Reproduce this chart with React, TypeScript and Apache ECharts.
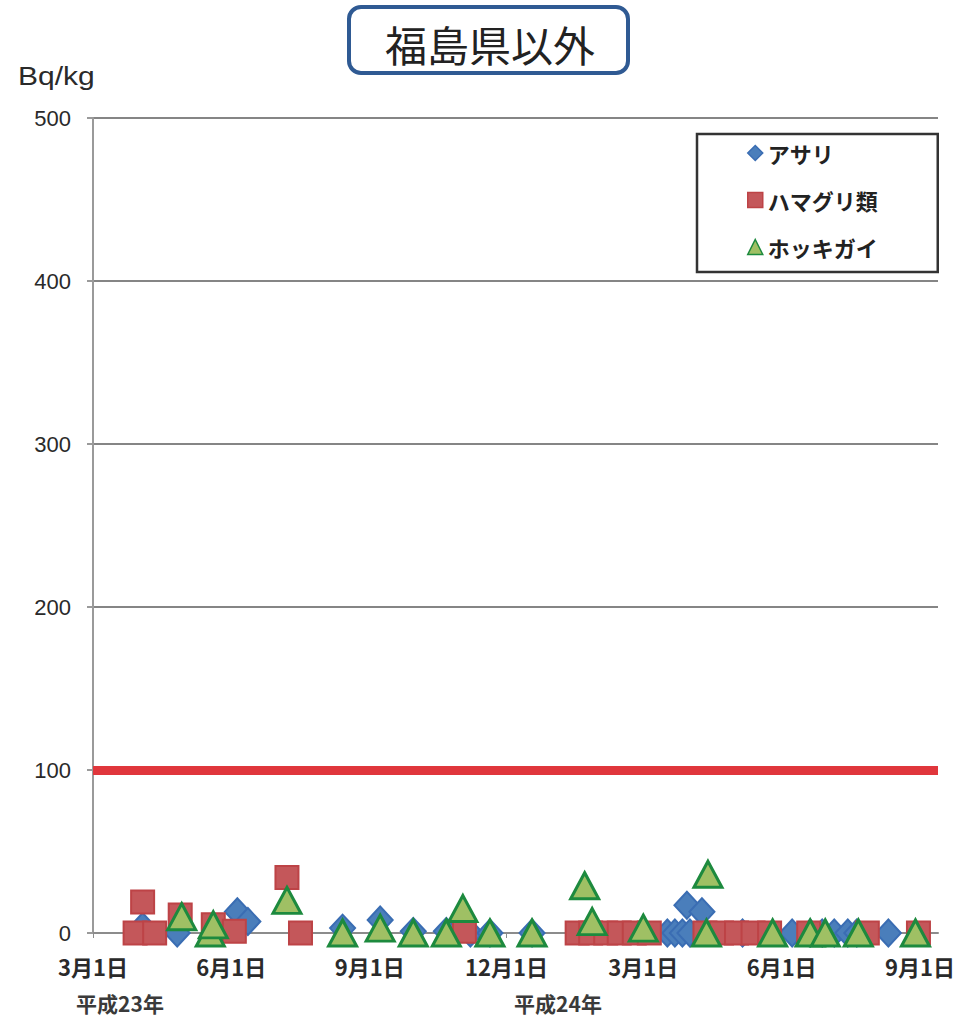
import React, { useEffect, useRef } from "react";
import * as echarts from "echarts";

const seriesNames = ["アサリ", "ハマグリ類", "ホッキガイ"];

const asariDates = [
  "2011-04-03", "2011-04-26", "2011-06-05", "2011-06-12", "2011-08-14", "2011-09-08",
  "2011-09-30", "2011-10-22", "2011-11-07", "2011-11-20", "2011-12-18", "2012-03-17",
  "2012-03-22", "2012-03-27", "2012-03-30", "2012-04-01", "2012-04-09", "2012-05-06",
  "2012-06-08", "2012-06-20", "2012-06-28", "2012-07-06", "2012-07-15", "2012-07-21",
  "2012-08-11",
];
const asariValues = [4, 0, 13, 7, 3, 8, 1, 1, 0, 0, 0, 0, 0, 0, 17, 0, 13, 0, 0, 0, 0, 0, 0, 0, 0];

const hamaguriDates = [
  "2011-03-29", "2011-04-03", "2011-04-11", "2011-04-28", "2011-05-20", "2011-06-03",
  "2011-07-08", "2011-07-17", "2011-11-03", "2012-01-17", "2012-01-26", "2012-02-05",
  "2012-02-14", "2012-02-24", "2012-03-05", "2012-04-11", "2012-04-22", "2012-05-02",
  "2012-05-13", "2012-05-24", "2012-06-19", "2012-07-28", "2012-08-31",
];
const hamaguriValues = [0, 19, 0, 11, 5, 1, 34, 0, 1, 0, 0, 0, 0, 0, 0, 0, 0, 0, 0, 0, 0, 0, 0];

const hokkiDates = [
  "2011-04-29", "2011-05-18", "2011-05-20", "2011-07-08", "2011-08-14", "2011-09-08",
  "2011-09-30", "2011-10-22", "2011-11-02", "2011-11-20", "2011-12-18", "2012-01-22",
  "2012-01-27", "2012-03-01", "2012-04-12", "2012-04-13", "2012-05-26", "2012-06-20",
  "2012-06-30", "2012-07-22", "2012-08-29",
];
const hokkiValues = [10, 0, 5, 20, 0, 3, 0, 0, 15, 0, 0, 29, 7, 3, 0, 36, 0, 0, 0, 0, 0];

const xTickDates = ["2011-03-01", "2011-06-01", "2011-09-01", "2011-12-01", "2012-03-01", "2012-06-01", "2012-09-01"];
const xMinDate = "2011-03-01";
const xMaxDate = "2012-09-13";
const limitValue = 100;

const ts = (s: string) => {
  const [y, m, d] = s.split("-").map(Number);
  return Date.UTC(y, m - 1, d);
};
const pair = (dates: string[], vals: number[]) => dates.map((d, i) => [ts(d), vals[i]]);

export default function App() {
  const ref = useRef<HTMLDivElement>(null);
  useEffect(() => {
    document.body.style.margin = "0";
    const chart = echarts.init(ref.current!, null, { renderer: "svg" });
    const font = "'Liberation Sans', 'Noto Sans CJK JP', sans-serif";
    const jp = "'Noto Sans CJK JP', sans-serif";
    chart.setOption({
      animation: false,
      backgroundColor: "#ffffff",
      grid: { left: 93, right: 23, top: 118, bottom: 87, containLabel: false },
      xAxis: {
        type: "value",
        min: ts(xMinDate),
        max: ts(xMaxDate),
        axisLine: { show: true, onZero: false, lineStyle: { color: "#8c8c8c", width: 2 } },
        axisTick: { show: true, customValues: xTickDates.map(ts), length: 5, lineStyle: { color: "#8c8c8c" } },
        splitLine: { show: false },
        axisLabel: {
          customValues: xTickDates.map(ts),
          margin: 22,
          color: "#2a2a2a",
          fontSize: 22,
          fontWeight: "bold",
          fontFamily: jp,
          formatter: (v: number) => {
            const d = new Date(v);
            return `${d.getUTCMonth() + 1}月${d.getUTCDate()}日`;
          },
        },
      },
      yAxis: {
        type: "value",
        min: 0,
        max: 500,
        interval: 100,
        axisLine: { show: true, lineStyle: { color: "#9a9a9a", width: 2 } },
        axisTick: { show: true, length: 6, lineStyle: { color: "#9a9a9a", width: 2 } },
        splitLine: { show: true, lineStyle: { color: "#858585", width: 2 } },
        axisLabel: {
          color: "#2a2a2a",
          fontSize: 22,
          fontFamily: font,
          margin: 22,
        },
      },
      legend: {
        orient: "vertical",
        left: 697,
        top: 134,
        padding: [8, 60, 14, 50],
        itemGap: 25,
        itemWidth: 15,
        itemHeight: 15,
        borderColor: "#333",
        borderWidth: 2.5,
        backgroundColor: "#fff",
        textStyle: { fontSize: 22, fontWeight: "bold", color: "#222", fontFamily: jp },
        itemStyle: { borderWidth: 1.5 },
        data: seriesNames,
      },
      graphic: [
        {
          type: "rect",
          shape: { x: 349, y: 7, width: 279, height: 66, r: 12 },
          style: { fill: "#fff", stroke: "#2f5a93", lineWidth: 4 },
        },
        {
          type: "text",
          x: 490,
          y: 43,
          style: {
            text: "福島県以外",
            fontSize: 42,
            fontFamily: jp,
            fill: "#222",
            align: "center",
            verticalAlign: "middle",
          },
        },
        {
          type: "text",
          x: 18,
          y: 76,
          scaleX: 1.2,
          style: { text: "Bq/kg", fontSize: 25, fontFamily: font, fill: "#2a2a2a", verticalAlign: "middle" },
        },
        {
          type: "text",
          x: 120,
          y: 1003,
          style: { text: "平成23年", fontSize: 21, fontWeight: "bold", fontFamily: jp, fill: "#3a3a3a", align: "center", verticalAlign: "middle" },
        },
        {
          type: "text",
          x: 558,
          y: 1003,
          style: { text: "平成24年", fontSize: 21, fontWeight: "bold", fontFamily: jp, fill: "#3a3a3a", align: "center", verticalAlign: "middle" },
        },
      ],
      series: [
        {
          name: seriesNames[0],
          type: "scatter",
          symbol: "diamond",
          symbolSize: [25, 27],
          itemStyle: { color: "#4a7ebb", borderColor: "#3a6db3", borderWidth: 2, opacity: 1 },
          data: pair(asariDates, asariValues),
          markLine: {
            silent: true,
            symbol: "none",
            label: { show: false },
            lineStyle: { color: "#e0363c", width: 9, type: "solid", opacity: 1 },
            data: [{ yAxis: limitValue }],
          },
          z: 2,
        },
        {
          name: seriesNames[1],
          type: "scatter",
          symbol: "rect",
          symbolSize: 23,
          itemStyle: { color: "#c4575a", borderColor: "#bd4346", borderWidth: 2, opacity: 1 },
          data: pair(hamaguriDates, hamaguriValues),
          z: 3,
        },
        {
          name: seriesNames[2],
          type: "scatter",
          symbol: "triangle",
          symbolSize: [28, 26],
          itemStyle: { color: "#9fc064", borderColor: "#1d8a3e", borderWidth: 3, opacity: 1 },
          data: pair(hokkiDates, hokkiValues),
          z: 4,
        },
      ],
    });
    return () => chart.dispose();
  }, []);
  return <div ref={ref} style={{ width: 961, height: 1020 }} />;
}
